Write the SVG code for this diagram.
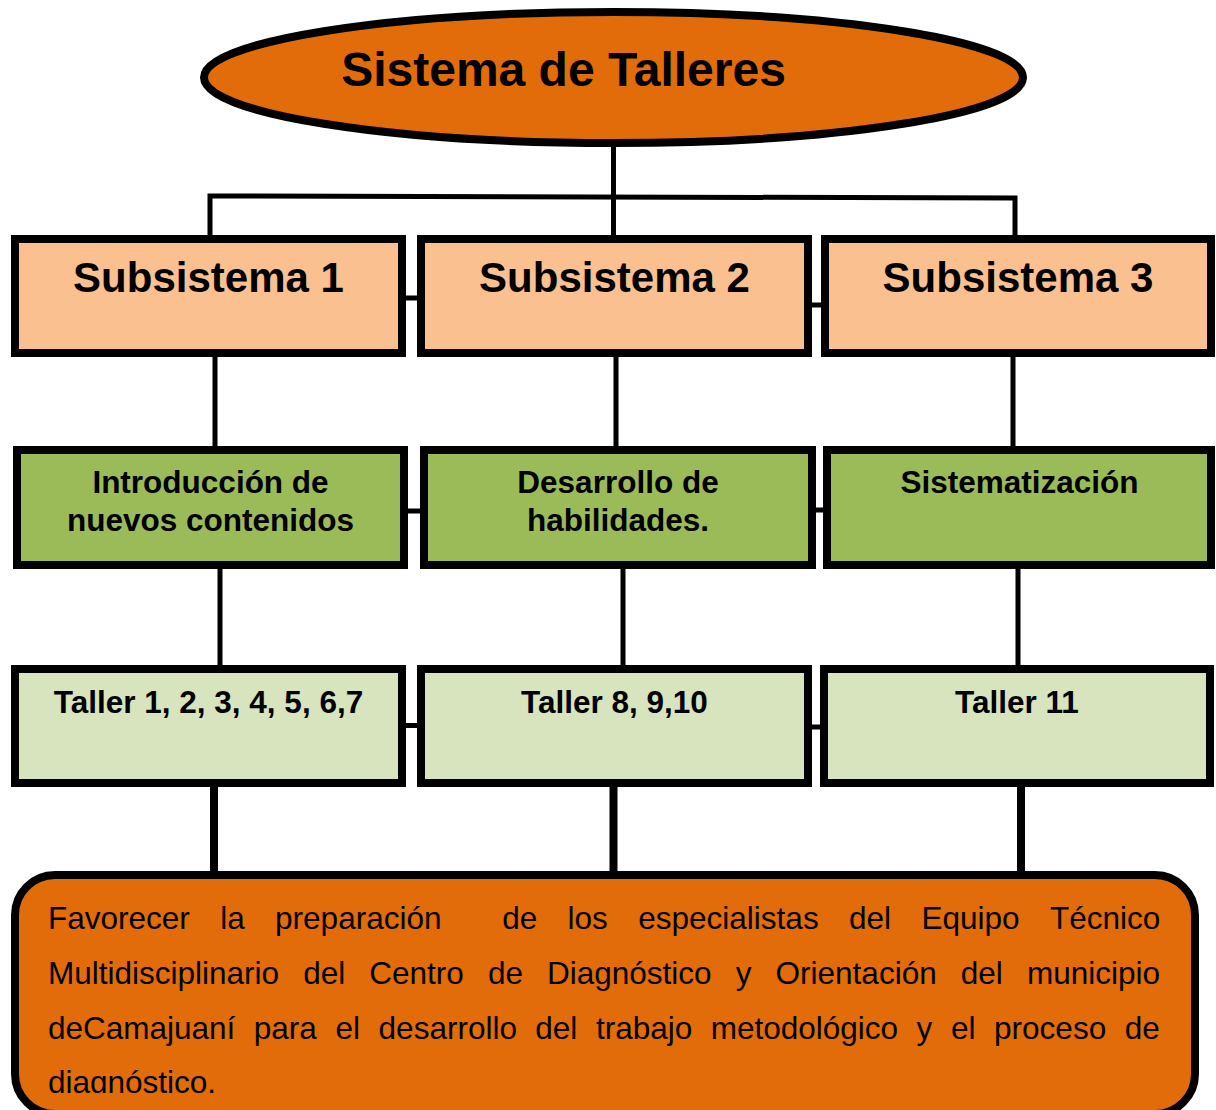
<svg xmlns="http://www.w3.org/2000/svg" width="1216" height="1110" viewBox="0 0 1216 1110">
<style>
.box{stroke:#000;stroke-width:8}
.sub{fill:#FAC090}
.grn{fill:#9BBB59}
.tal{fill:#D7E4BD}
.org{fill:#E36C0A}
.ln{stroke:#000;fill:none;stroke-width:5}
.thk{stroke:#000;fill:none;stroke-width:8}
.t{font-family:"Liberation Sans",Arial,sans-serif;fill:#000}
.b{font-weight:bold;text-anchor:middle}
</style>
<defs>
<clipPath id="clipTxt"><rect x="0" y="880" width="1216" height="213"/></clipPath>
</defs>
<rect width="1216" height="1110" fill="#fff"/>
<g id="connectors">
<path class="ln" d="M613.5 147 V237"/>
<path class="ln" d="M210 237 V196 L1015 198 V237"/>
<path class="ln" d="M215 357 V448 M616 357 V448 M1013 357 V448"/>
<path class="ln" d="M220 569 V667 M623 569 V667 M1018 569 V667"/>
<path class="thk" d="M214 787 V873 M613.5 787 V873 M1021 787 V873"/>
<path class="ln" stroke-width="6" d="M404 298 H419 M810 305 H823 M406 511 H422 M814 510 H825 M404 725.5 H419 M810 727 H822"/>
</g>
<g id="root">
<ellipse class="box org" cx="613.5" cy="77.5" rx="409.5" ry="65.5"/>
<text class="t b" x="563.5" y="86" font-size="48">Sistema de Talleres</text>
</g>
<g id="subsistema1">
<rect class="box sub" x="15" y="239" width="387" height="114"/>
<text class="t b" x="208.5" y="292" font-size="42">Subsistema 1</text>
</g>
<g id="subsistema2">
<rect class="box sub" x="421" y="239" width="387" height="114"/>
<text class="t b" x="614.5" y="292" font-size="42">Subsistema 2</text>
</g>
<g id="subsistema3">
<rect class="box sub" x="825" y="239" width="386" height="114"/>
<text class="t b" x="1018" y="292" font-size="42">Subsistema 3</text>
</g>
<g id="introduccion">
<rect class="box grn" x="17" y="450" width="387" height="115"/>
<text class="t b" font-size="31.5"><tspan x="210.5" y="493">Introducción de</tspan><tspan x="210.5" y="531">nuevos contenidos</tspan></text>
</g>
<g id="desarrollo">
<rect class="box grn" x="424" y="450" width="388" height="115"/>
<text class="t b" font-size="31.5"><tspan x="618" y="493">Desarrollo de</tspan><tspan x="618" y="531">habilidades.</tspan></text>
</g>
<g id="sistematizacion">
<rect class="box grn" x="827" y="450" width="384" height="115"/>
<text class="t b" x="1019.5" y="493" font-size="31.5">Sistematización</text>
</g>
<g id="taller1">
<rect class="box tal" x="15" y="669" width="387" height="114"/>
<text class="t b" x="208.5" y="713" font-size="31.5">Taller 1, 2, 3, 4, 5, 6,7</text>
</g>
<g id="taller2">
<rect class="box tal" x="421" y="669" width="387" height="114"/>
<text class="t b" x="614.5" y="713" font-size="31.5">Taller 8, 9,10</text>
</g>
<g id="taller3">
<rect class="box tal" x="824" y="669" width="386" height="114"/>
<text class="t b" x="1017" y="713" font-size="31.5">Taller 11</text>
</g>
<g id="objetivo">
<rect class="box org" x="15" y="875" width="1180" height="239" rx="40" ry="40"/>
<g clip-path="url(#clipTxt)">
<text class="t" font-size="31.5">
<tspan y="929" x="48">Favorecer</tspan><tspan x="220.2">la</tspan><tspan x="275.1">preparación</tspan><tspan x="502.2">de</tspan><tspan x="567.6">los</tspan><tspan x="638.3">especialistas</tspan><tspan x="849">del</tspan><tspan x="921.4">Equipo</tspan><tspan x="1049.9">Técnico</tspan>
<tspan y="984" x="48">Multidisciplinario</tspan><tspan x="303.2">del</tspan><tspan x="369.3">Centro</tspan><tspan x="487.9">de</tspan><tspan x="547">Diagnóstico</tspan><tspan x="735.7">y</tspan><tspan x="775.6">Orientación</tspan><tspan x="960.8">del</tspan><tspan x="1026.9">municipio</tspan>
<tspan y="1039" x="48">deCamajuaní</tspan><tspan x="253.7">para</tspan><tspan x="335.4">el</tspan><tspan x="378.6">desarrollo</tspan><tspan x="535.3">del</tspan><tspan x="596">trabajo</tspan><tspan x="710.7">metodológico</tspan><tspan x="916.4">y</tspan><tspan x="950.9">el</tspan><tspan x="994.1">proceso</tspan><tspan x="1124.8">de</tspan>
<tspan y="1093" x="48">diagnóstico.</tspan>
</text>
</g>
</g>
</svg>
